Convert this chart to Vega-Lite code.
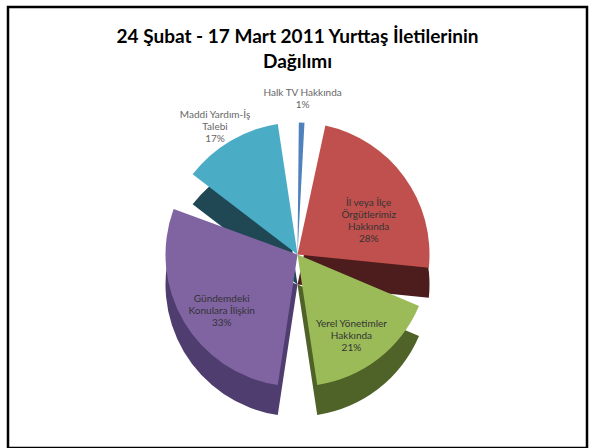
{
  "$schema": "https://vega.github.io/schema/vega-lite/v6.json",
  "width": 595,
  "height": 448,
  "autosize": {"type": "fit", "contains": "padding"},
  "padding": {"left": 8, "top": 7, "right": 8, "bottom": 0},
  "background": "white",
  "view": {"stroke": "#000", "strokeWidth": 2.5},
  "title": {
    "text": ["24 Şubat - 17 Mart 2011 Yurttaş İletilerinin", "Dağılımı"],
    "font": "Lato",
    "fontSize": 19,
    "fontWeight": "bold",
    "color": "#000",
    "lineHeight": 25,
    "anchor": "middle",
    "offset": -65
  },
  "data": {
    "values": [
      {"k": "Halk TV Hakkında", "label": "Halk TV Hakkında\n1%", "v": 1, "idx": 0},
      {"k": "İl veya İlçe Örgütlerimiz Hakkında", "label": "İl veya İlçe\nÖrgütlerimiz\nHakkında\n28%", "v": 28, "idx": 1},
      {"k": "Yerel Yönetimler Hakkında", "label": "Yerel Yönetimler\nHakkında\n21%", "v": 21, "idx": 2},
      {"k": "Gündemdeki Konulara İlişkin", "label": "Gündemdeki\nKonulara İlişkin\n33%", "v": 33, "idx": 3},
      {"k": "Maddi Yardım-İş Talebi", "label": "Maddi Yardım-İş\nTalebi\n17%", "v": 17, "idx": 4}
    ]
  },
  "encoding": {
    "theta": {"field": "v", "type": "quantitative", "stack": true},
    "order": {"field": "idx", "type": "quantitative"}
  },
  "layer": [
    {
      "mark": {"type": "arc", "outerRadius": 132, "padAngle": 0.3, "yOffset": 57},
      "encoding": {
        "color": {
          "field": "k", "type": "nominal", "legend": null,
          "scale": {
            "domain": ["Halk TV Hakkında", "İl veya İlçe Örgütlerimiz Hakkında", "Yerel Yönetimler Hakkında", "Gündemdeki Konulara İlişkin", "Maddi Yardım-İş Talebi"],
            "range": ["#2c4d75", "#4d1c1c", "#4f6228", "#4e3d6e", "#1f4754"]
          }
        }
      }
    },
    {
      "mark": {"type": "arc", "outerRadius": 132, "padAngle": 0.3, "yOffset": 27},
      "encoding": {
        "color": {
          "field": "k", "type": "nominal", "legend": null,
          "scale": {
            "domain": ["Halk TV Hakkında", "İl veya İlçe Örgütlerimiz Hakkında", "Yerel Yönetimler Hakkında", "Gündemdeki Konulara İlişkin", "Maddi Yardım-İş Talebi"],
            "range": ["#4f81bd", "#c0504d", "#9bbb59", "#8064a2", "#4bacc6"]
          }
        }
      }
    },
    {
      "mark": {"type": "arc", "outerRadius": 132, "padAngle": 0.02, "yOffset": 27, "fill": "#4f81bd"},
      "encoding": {
        "opacity": {"condition": {"test": "datum.v < 5", "value": 1}, "value": 0}
      }
    },
    {
      "mark": {"type": "text", "radius": 88, "yOffset": 27, "font": "Lato", "fontSize": 10, "lineBreak": "\n", "color": "#333", "align": "center", "baseline": "middle"},
      "encoding": {
        "text": {"field": "label"},
        "opacity": {"condition": {"test": "datum.v >= 20", "value": 1}, "value": 0}
      }
    },
    {
      "mark": {"type": "text", "radius": 162, "yOffset": 27, "font": "Lato", "fontSize": 10, "lineBreak": "\n", "color": "#666", "align": "center", "baseline": "middle"},
      "encoding": {
        "text": {"field": "label"},
        "opacity": {"condition": {"test": "datum.v < 20", "value": 1}, "value": 0}
      }
    }
  ],
  "resolve": {"scale": {"color": "independent"}}
}
